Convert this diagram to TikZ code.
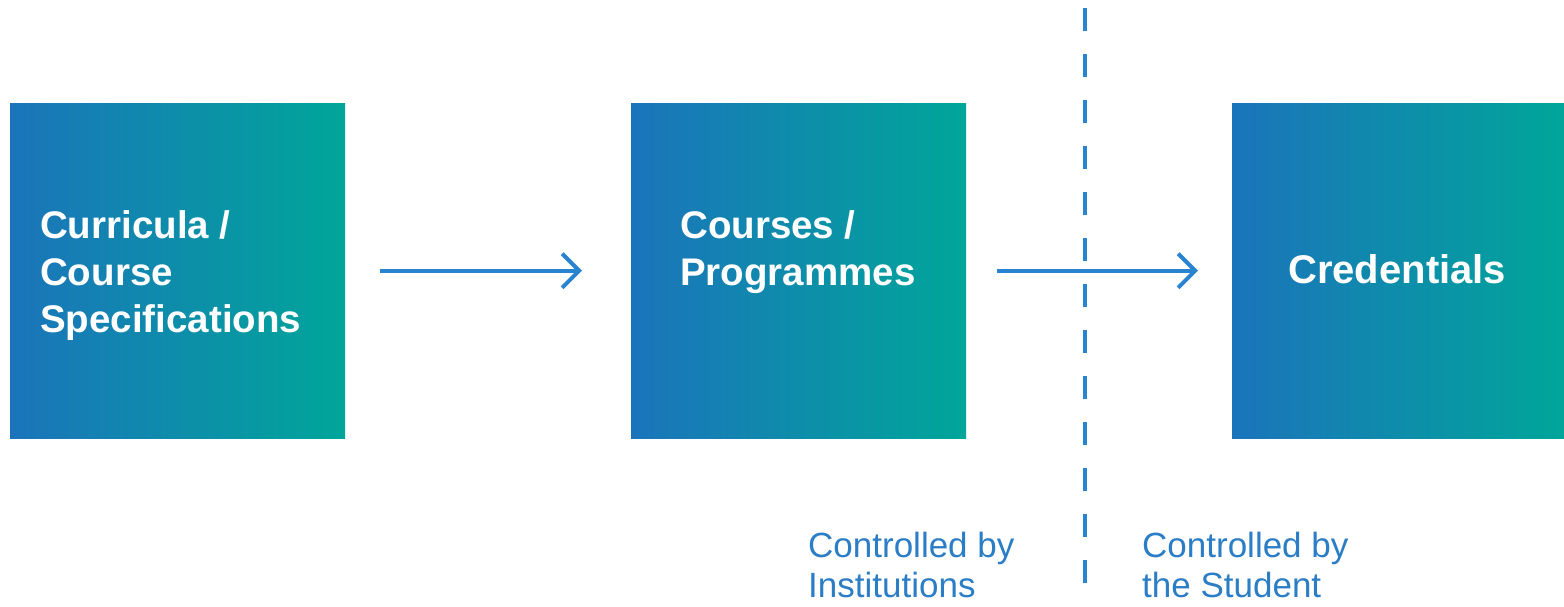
\documentclass[tikz,border=0pt]{standalone}
\usepackage{fontspec}
\setmainfont{Liberation Sans}
\usetikzlibrary{arrows.meta}
\definecolor{gblue}{RGB}{27,116,187}
\definecolor{gteal}{RGB}{0,166,153}
\definecolor{lblue}{RGB}{43,126,198}
\definecolor{ablue}{RGB}{40,132,208}
\begin{document}
\begin{tikzpicture}[x=1pt,y=-1pt,
  box/.style={rectangle, minimum width=335pt, minimum height=335pt, inner sep=0pt, left color=gblue, right color=gteal, anchor=north west},
  boxtext/.style={text=white, font=\fontsize{38.5}{47}\selectfont\bfseries, align=left, inner sep=0pt, anchor=base west},
  lab/.style={text=lblue, font=\fontsize{35}{40}\selectfont, align=left, inner sep=0pt, anchor=base west},
  arr/.style={draw=ablue, line width=4pt, -{Straight Barb[length=17pt,width=34pt]}},
  divider/.style={draw=ablue, line width=3.2pt, dash pattern=on 23pt off 23pt}]
\useasboundingbox (0,0) rectangle (1564,607);
\clip (0,0) rectangle (1564,607);
\fill[white] (0,0) rectangle (1564,607);
\node[box] (box1) at (10,103) {};
\node[box] (box2) at (631,103) {};
\node[box] (box3) at (1232,103) {};
\node[boxtext] (t1) at (40,332) {Curricula /\\Course\\Specifications};
\node[boxtext] (t2) at (680,285) {Courses /\\Programmes};
\node[boxtext, font=\fontsize{40}{47}\selectfont\bfseries] (t3) at (1288,283) {Credentials};
\draw[arr, shorten <=35pt, shorten >=49pt] (box1.east) -- (box2.west);
\draw[arr, shorten <=31pt, shorten >=34pt] (box2.east) -- (box3.west);
\coordinate (dtop) at (1085,8);
\coordinate (dbot) at (1085,600);
\draw[divider] (dtop) -- (dbot);
\node[lab] (l1) at (808,597) {Controlled by\\Institutions};
\node[lab] (l2) at (1142,597) {Controlled by\\the Student};
\end{tikzpicture}
\end{document}
